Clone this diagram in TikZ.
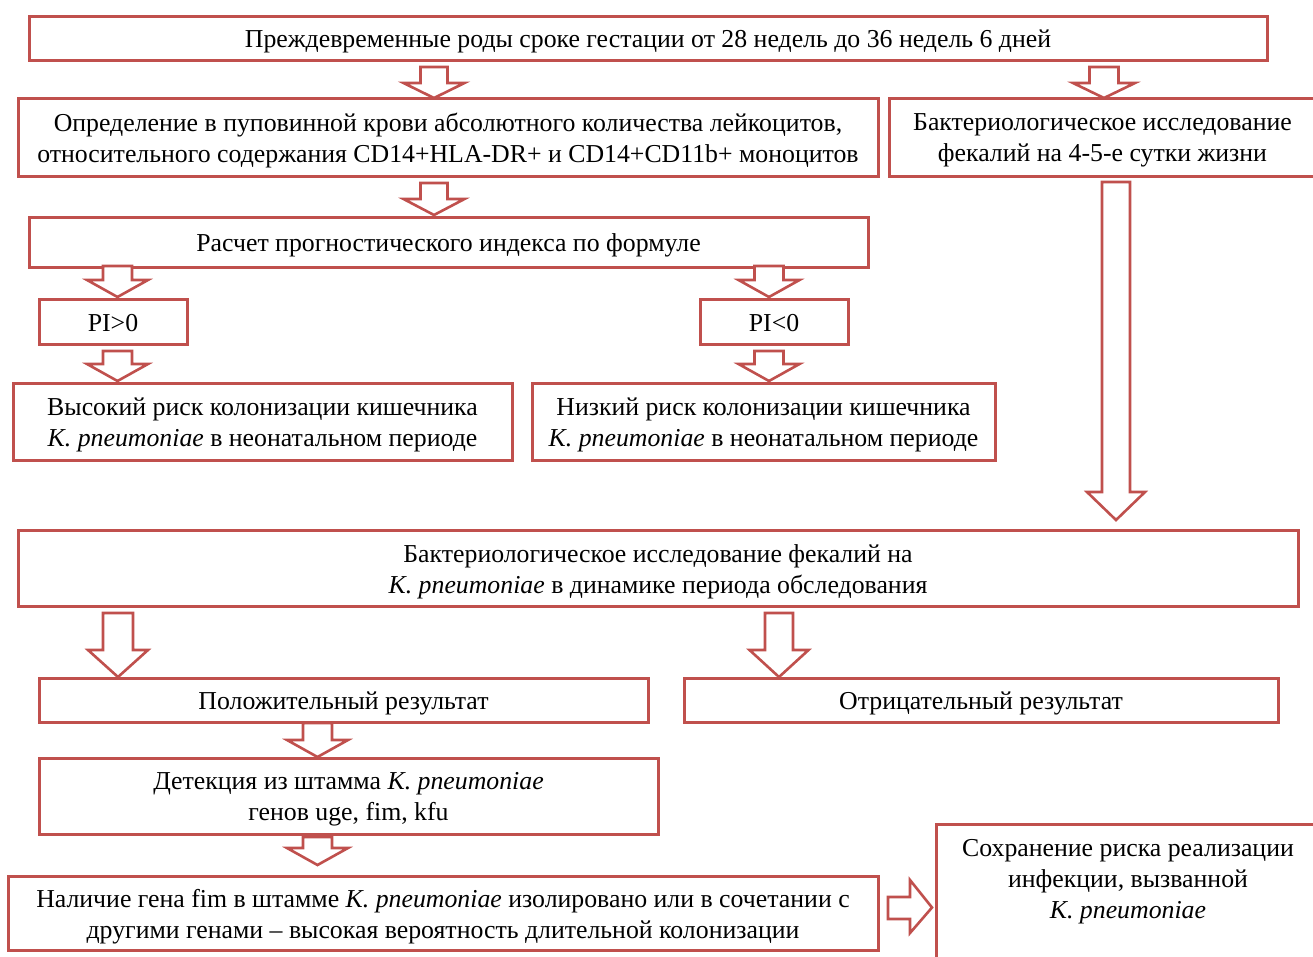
\documentclass[tikz,border=0pt]{standalone}
\usepackage{fontspec}
\setmainfont{Liberation Serif}
\definecolor{boxred}{HTML}{C0504D}
\newcommand\dnarrow[6]{%
  \draw[barrow] ({#1-#5},#2) -- ({#1+#5},#2) -- ({#1+#5},#3) -- ({#1+#6},#3) -- (#1,#4) -- ({#1-#6},#3) -- ({#1-#5},#3) -- cycle;}
\begin{document}
\begin{tikzpicture}[x=1pt,y=-1pt,
  box/.style={draw=boxred, line width=3pt, fill=white, inner sep=0pt},
  txt/.style={inner sep=0pt, align=center, font=\fontsize{25.8}{31}\selectfont},
  barrow/.style={draw=boxred, line width=2.6pt, fill=white, line join=miter}]
\useasboundingbox (0,0) rectangle (1313,956);
\clip (0,0) rectangle (1313,956);
\fill[white] (0,0) rectangle (1313,956);

\node[box, minimum width=1238, minimum height=44] (top) at (648,38) {};
\node[txt] at ([yshift=-3pt]top.center)
  {Преждевременные роды сроке гестации от 28 недель до 36 недель 6 дней};
\node[box, minimum width=860, minimum height=78] (def) at (448,137) {};
\node[txt] at ([yshift=-3.5pt]def.center)
  {Определение в пуповинной крови абсолютного количества лейкоцитов,\\
   относительного содержания CD14+HLA-DR+ и CD14+CD11b+ моноцитов};
\node[box, minimum width=427, minimum height=78] (bac1) at (1102.5,137) {};
\node[txt] at ([yshift=-3.5pt]bac1.center)
  {Бактериологическое исследование\\ фекалий на 4-5-е сутки жизни};
\node[box, minimum width=839, minimum height=50] (calc) at (448.5,242) {};
\node[txt] at ([yshift=-3pt]calc.center)
  {Расчет прогностического индекса по формуле};
\node[box, minimum width=148, minimum height=45] (pipos) at (113,321.5) {};
\node[txt] at ([yshift=-1.5pt]pipos.center) {PI>0};
\node[box, minimum width=148, minimum height=45] (pineg) at (774,321.5) {};
\node[txt] at ([yshift=-1.5pt]pineg.center) {PI<0};
\node[box, minimum width=499, minimum height=77] (high) at (262.5,421.5) {};
\node[txt] at ([yshift=-3.5pt]high.center)
  {Высокий риск колонизации кишечника\\ \textit{K. pneumoniae} в неонатальном периоде};
\node[box, minimum width=463, minimum height=77] (low) at (763.5,421.5) {};
\node[txt] at ([yshift=-3.5pt]low.center)
  {Низкий риск колонизации кишечника\\ \textit{K. pneumoniae} в неонатальном периоде};
\node[box, minimum width=1280, minimum height=76] (bact) at (658,568) {};
\node[txt] at ([yshift=-3.5pt]bact.center)
  {Бактериологическое исследование фекалий на\\ \textit{K. pneumoniae} в динамике периода обследования};
\node[box, minimum width=609, minimum height=44] (pos) at (343.5,700) {};
\node[txt] at ([yshift=-3pt]pos.center) {Положительный результат};
\node[box, minimum width=594, minimum height=44] (neg) at (981,700) {};
\node[txt] at ([yshift=-3pt]neg.center) {Отрицательный результат};
\node[box, minimum width=619, minimum height=76] (det) at (348.5,796) {};
\node[txt] at ([yshift=-3.5pt]det.center)
  {Детекция из штамма \textit{K. pneumoniae}\\ генов uge, fim, kfu};
\node[box, minimum width=870, minimum height=74] (pres) at (443,913.5) {};
\node[txt] at ([yshift=-3.5pt]pres.center)
  {Наличие гена fim в штамме \textit{K. pneumoniae} изолировано или в сочетании с\\
   другими генами – высокая вероятность длительной колонизации};
\node[box, minimum width=384, minimum height=180, anchor=north] (save) at (1128,823) {};
\node[txt, anchor=north] (savetext) at ([yshift=-16pt]save.north)
  {Сохранение риска реализации\\ инфекции, вызванной\\ \textit{K. pneumoniae}};

% block arrows
\dnarrow{434}{67}{83}{98}{13.5}{30.5}
\dnarrow{1104}{67}{83}{98}{14.5}{31}
\dnarrow{434}{183}{199}{215}{13.5}{30.5}
\dnarrow{117.5}{266}{280}{297}{14.5}{30.5}
\dnarrow{769}{266}{280}{297}{14.5}{30.5}
\dnarrow{117.5}{351}{364}{381}{14.5}{30.5}
\dnarrow{769}{351}{364}{381}{14.5}{30.5}
\dnarrow{1116}{182}{492}{520}{14}{29}
\dnarrow{118}{613}{650}{677}{15}{30}
\dnarrow{779}{613}{650}{677}{14}{29.5}
\dnarrow{317.5}{723}{740}{757}{14.5}{30.5}
\dnarrow{317.5}{837}{848}{865}{14.5}{30.5}
\draw[barrow] (888,897) -- (910,897) -- (910,880) -- (932,907.5) -- (910,933) -- (910,919) -- (888,919) -- cycle;
\end{tikzpicture}
\end{document}
